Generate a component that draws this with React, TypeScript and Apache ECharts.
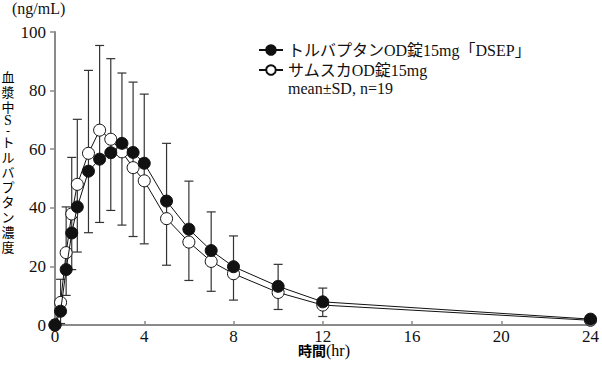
import React, { useEffect, useRef } from "react";
import * as echarts from "echarts";

const times = [0, 0.25, 0.5, 0.75, 1, 1.5, 2, 2.5, 3, 3.5, 4, 5, 6, 7, 8, 10, 12, 24];
const dsepMean = [0, 4.7, 18.9, 31.4, 40.3, 52.5, 56.6, 58.8, 62.0, 58.9, 55.2, 42.3, 32.7, 25.4, 19.9, 13.2, 7.9, 2.0];
const samscaMean = [0, 7.7, 24.7, 37.9, 48.0, 58.6, 66.5, 63.4, 59.1, 53.7, 49.2, 36.3, 28.3, 21.7, 17.5, 11.1, 6.8, 1.6];
const sdUpper = [0, 15.6, 40.3, 57.2, 70.2, 86.9, 95.4, 90.9, 86.0, 82.9, 78.8, 62.0, 49.1, 38.6, 30.4, 20.7, 12.6, 3.0];
const sdLower = [0, 0.5, 10.1, 18.9, 24.9, 31.5, 35.0, 39.1, 34.1, 30.2, 27.7, 20.4, 15.2, 11.5, 8.5, 5.3, 2.9, 0.6];

const seriesNames = ["トルバプタンOD錠15mg「DSEP」", "サムスカOD錠15mg"];
const xTicks = { min: 0, max: 24, interval: 4 };
const yTicks = { min: 0, max: 100, interval: 20 };
const yLabelChars = ["血", "漿", "中", "S", "-", "ト", "ル", "バ", "プ", "タ", "ン", "濃", "度"];

const SERIF = "Liberation Serif";
const CJK = "Noto Sans CJK JP";
const MIXED = "Liberation Serif, Noto Sans CJK JP";

export default function App() {
  const ref = useRef<HTMLDivElement>(null);
  useEffect(() => {
    if (!ref.current) return;
    const chart = echarts.init(ref.current, null, { renderer: "svg" });
    const errData = times.map((t, i) => [t, sdLower[i], sdUpper[i]]);

    const yTitleText = yLabelChars
      .map((c) => (c === "S" ? `{s|${c}}` : c === "-" ? `{d|${c}}` : `{c|${c}}`))
      .join("\n");

    chart.setOption({
      animation: false,
      textStyle: { fontFamily: SERIF },
      grid: { left: 55, right: 7, top: 32, bottom: 46, containLabel: false },
      xAxis: {
        type: "value",
        min: xTicks.min,
        max: xTicks.max,
        interval: xTicks.interval,
        axisLine: { show: true, lineStyle: { color: "#8a8a8a", width: 2 } },
        axisTick: { show: true, inside: true, length: 4, lineStyle: { color: "#8a8a8a", width: 1.5 } },
        axisLabel: { color: "#111", fontSize: 17, fontFamily: SERIF, margin: 3 },
        splitLine: { show: false },
      },
      yAxis: {
        type: "value",
        min: yTicks.min,
        max: yTicks.max,
        interval: yTicks.interval,
        axisLine: { show: true, lineStyle: { color: "#8a8a8a", width: 2 } },
        axisTick: { show: true, inside: false, length: 5, lineStyle: { color: "#8a8a8a", width: 1.5 } },
        axisLabel: { color: "#111", fontSize: 17, fontFamily: SERIF, margin: 9 },
        splitLine: { show: false },
      },
      legend: {
        orient: "vertical",
        left: 253,
        top: 37,
        itemWidth: 24,
        itemHeight: 12,
        itemGap: 4,
        textStyle: { fontSize: 16, fontFamily: MIXED, color: "#111" },
        data: seriesNames,
      },
      graphic: [
        {
          type: "text",
          left: 12,
          top: 0,
          style: { text: "(ng/mL)", fontFamily: SERIF, fontSize: 16, fill: "#111" },
        },
        {
          type: "text",
          left: 1,
          top: 70,
          style: {
            text: yTitleText,
            align: "center",
            rich: {
              c: { fontFamily: CJK, fontSize: 13, lineHeight: 15, color: "#111", align: "center", width: 14 },
              s: { fontFamily: SERIF, fontSize: 14, lineHeight: 13, color: "#111", align: "center", width: 14 },
              d: { fontFamily: SERIF, fontSize: 12, lineHeight: 7, color: "#111", align: "center", width: 14 },
            },
          },
        },
        {
          type: "text",
          left: 288,
          top: 80,
          style: { text: "mean±SD, n=19", fontFamily: SERIF, fontSize: 16, fill: "#111" },
        },
        {
          type: "text",
          left: 298,
          top: 342,
          style: {
            text: "{a|時間}{b|(hr)}",
            rich: {
              a: { fontFamily: CJK, fontWeight: "bold", fontSize: 14, color: "#111", lineHeight: 18 },
              b: { fontFamily: SERIF, fontSize: 16, color: "#111", lineHeight: 18 },
            },
          },
        },
      ],
      series: [
        {
          type: "custom",
          name: "sd",
          z: 1,
          data: errData,
          renderItem: (params: any, api: any) => {
            const x = api.value(0);
            const lo = api.coord([x, api.value(1)]);
            const hi = api.coord([x, api.value(2)]);
            const w = 4.5;
            const style = { stroke: "#333", lineWidth: 1.2 };
            return {
              type: "group",
              children: [
                { type: "line", shape: { x1: hi[0], y1: hi[1], x2: lo[0], y2: lo[1] }, style },
                { type: "line", shape: { x1: hi[0] - w, y1: hi[1], x2: hi[0] + w, y2: hi[1] }, style },
                { type: "line", shape: { x1: lo[0] - w, y1: lo[1], x2: lo[0] + w, y2: lo[1] }, style },
              ],
            };
          },
        },
        {
          type: "line",
          name: seriesNames[1],
          z: 3,
          data: times.map((t, i) => [t, samscaMean[i]]),
          symbol: "circle",
          symbolSize: 12,
          lineStyle: { color: "#111", width: 1 },
          itemStyle: { color: "#fff", borderColor: "#111", borderWidth: 1 },
        },
        {
          type: "line",
          name: seriesNames[0],
          z: 4,
          data: times.map((t, i) => [t, dsepMean[i]]),
          symbol: "circle",
          symbolSize: 12,
          lineStyle: { color: "#111", width: 1 },
          itemStyle: { color: "#111", borderColor: "#111", borderWidth: 1 },
        },
      ],
    });
    return () => chart.dispose();
  }, []);
  return <div ref={ref} style={{ width: 602, height: 371, position: "absolute", left: 0, top: 0 }} />;
}
